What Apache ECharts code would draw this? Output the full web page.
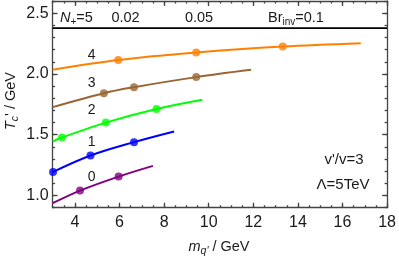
<!DOCTYPE html>
<html><head><meta charset="utf-8">
<script src="https://cdn.jsdelivr.net/npm/echarts@6/dist/echarts.min.js"></script>
<style>html,body{margin:0;padding:0;background:#fff}#c{width:399px;height:261px}</style>
</head><body><div id="c"></div>
<script>
// ---- data ----
const xMin = 3, xMax = 18, yMin = 0.9, yMax = 2.6;
const xMajorTicks = [4, 6, 8, 10, 12, 14, 16, 18];
const yMajorTicks = [1.0, 1.5, 2.0, 2.5];

const n4X = [3, 5.94, 9.44, 13.32, 16.82];
const n4Y = [2.034, 2.114, 2.176, 2.225, 2.253];
const n4MarkX = [5.94, 9.44, 13.32];
const n4MarkY = [2.114, 2.176, 2.225];

const n3X = [3, 5.30, 6.65, 9.44, 11.90];
const n3Y = [1.727, 1.842, 1.891, 1.974, 2.034];
const n3MarkX = [5.30, 6.65, 9.44];
const n3MarkY = [1.842, 1.891, 1.974];

const n2X = [3, 3.42, 5.39, 7.66, 9.71];
const n2Y = [1.444, 1.477, 1.600, 1.711, 1.787];
const n2MarkX = [3.42, 5.39, 7.66];
const n2MarkY = [1.477, 1.600, 1.711];

const n1X = [3, 4.70, 6.65, 8.45];
const n1Y = [1.192, 1.329, 1.439, 1.527];
const n1MarkX = [3.02, 4.70, 6.65];
const n1MarkY = [1.193, 1.329, 1.439];

const n0X = [3, 4.23, 5.96, 7.50];
const n0Y = [0.937, 1.041, 1.156, 1.244];
const n0MarkX = [4.23, 5.96];
const n0MarkY = [1.041, 1.156];

const refLineX = [3, 18];
const refLineY = [2.377, 2.377];

const curveLabels = ['4', '3', '2', '1', '0'];
const colors = ['#FF8000', '#996633', '#00FF00', '#0000FF', '#800080'];

// ---- chart ----
const zip = (a, b) => a.map((v, i) => [v, b[i]]);
const FONT = 'Liberation Sans, Arial, sans-serif';
const axisColor = '#444';
const TXT = '#1a1a1a';
const chart = echarts.init(document.getElementById('c'), null, {renderer: 'canvas'});

const curves = [[n4X, n4Y, n4MarkX, n4MarkY], [n3X, n3Y, n3MarkX, n3MarkY],
  [n2X, n2Y, n2MarkX, n2MarkY], [n1X, n1Y, n1MarkX, n1MarkY], [n0X, n0Y, n0MarkX, n0MarkY]];

const series = [];
curves.forEach((c, i) => {
  series.push({type: 'line', data: zip(c[0], c[1]), smooth: 0.35, showSymbol: false,
    lineStyle: {color: colors[i], width: 2}, xAxisIndex: 0, yAxisIndex: 0, silent: true, z: 3});
  series.push({type: 'scatter', data: zip(c[2], c[3]), symbolSize: 8, clip: false,
    itemStyle: {color: colors[i]}, xAxisIndex: 0, yAxisIndex: 0, z: 4});
});
series.push({type: 'line', data: zip(refLineX, refLineY), showSymbol: false,
  lineStyle: {color: '#000', width: 1.8}, xAxisIndex: 0, yAxisIndex: 0, z: 5});

const minorX = {min: xMin, max: xMax, interval: 0.5};
const minorY = {min: yMin, max: yMax, interval: 0.1};
const lineS = {color: axisColor, width: 1.3};

const option = {
  animation: false,
  grid: {left: 52.6, right: 11, top: 1, bottom: 53.3, containLabel: false},
  xAxis: [
    Object.assign({type: 'value', position: 'bottom', axisLine: {show: true, lineStyle: lineS},
      axisTick: {inside: true, length: 2.5, lineStyle: lineS},
      axisLabel: {fontSize: 16, color: TXT, fontFamily: FONT, margin: 7,
        formatter: v => (Math.abs(v - Math.round(v)) < 1e-6 && Math.round(v) % 2 === 0) ? String(Math.round(v)) : ''},
      splitLine: {show: false}}, minorX),
    {type: 'value', position: 'bottom', min: xMin, max: xMax, axisLine: {show: false},
      axisTick: {inside: true, length: 5, customValues: xMajorTicks, lineStyle: lineS},
      axisLabel: {show: false, customValues: xMajorTicks}, splitLine: {show: false}},
    Object.assign({type: 'value', position: 'top', axisLine: {show: true, lineStyle: lineS},
      axisTick: {inside: true, length: 2.5, lineStyle: lineS}, axisLabel: {show: false},
      splitLine: {show: false}}, minorX),
    {type: 'value', position: 'top', min: xMin, max: xMax, axisLine: {show: false},
      axisTick: {inside: true, length: 5, customValues: xMajorTicks, lineStyle: lineS},
      axisLabel: {show: false, customValues: xMajorTicks}, splitLine: {show: false}}
  ],
  yAxis: [
    Object.assign({type: 'value', position: 'left', axisLine: {show: true, lineStyle: lineS},
      axisTick: {inside: true, length: 2.5, lineStyle: lineS},
      axisLabel: {fontSize: 16, color: TXT, fontFamily: FONT, margin: 4,
        formatter: v => { const r = Math.round(v * 10); return (Math.abs(v * 10 - r) < 1e-6 && r % 5 === 0 && r >= 10) ? (r / 10).toFixed(1) : ''; }},
      splitLine: {show: false}}, minorY),
    {type: 'value', position: 'left', min: yMin, max: yMax, axisLine: {show: false},
      axisTick: {inside: true, length: 5, customValues: yMajorTicks, lineStyle: lineS},
      axisLabel: {show: false, customValues: yMajorTicks}, splitLine: {show: false}},
    Object.assign({type: 'value', position: 'right', axisLine: {show: true, lineStyle: lineS},
      axisTick: {inside: true, length: 2.5, lineStyle: lineS}, axisLabel: {show: false},
      splitLine: {show: false}}, minorY),
    {type: 'value', position: 'right', min: yMin, max: yMax, axisLine: {show: false},
      axisTick: {inside: true, length: 5, customValues: yMajorTicks, lineStyle: lineS},
      axisLabel: {show: false, customValues: yMajorTicks}, splitLine: {show: false}}
  ],
  series: series
};
chart.setOption(option);

// text annotations
const txt = (x, y, rich, text, align) => ({type: 'text', x: x, y: y, z: 10,
  style: {text: text, rich: rich, textAlign: align || 'center', textVerticalAlign: 'middle',
    font: '14px ' + FONT, fill: TXT}});
const mkRich = (fs, ss) => ({
  n: {fontSize: fs, fontFamily: FONT, color: TXT, lineHeight: fs + 4, verticalAlign: 'middle'},
  i: {fontSize: fs, fontFamily: FONT, fontStyle: 'italic', color: TXT, lineHeight: fs + 4, verticalAlign: 'middle'},
  s: {fontSize: ss, fontFamily: FONT, color: TXT, lineHeight: ss, verticalAlign: 'bottom', padding: [6, 0, 0, 0]},
  si: {fontSize: ss, fontFamily: FONT, fontStyle: 'italic', color: TXT, lineHeight: ss, verticalAlign: 'bottom', padding: [6, 0, 0, 0]}
});
const richBase = mkRich(14.5, 10);
const richNum = mkRich(14, 10);
const richTitle = mkRich(14.5, 10.5);
const labelPos = [[91.7, 55], [91.7, 83.3], [91.7, 110], [91.7, 141.7], [91.7, 177.3]];
const graphics = curveLabels.map((t, k) => txt(labelPos[k][0], labelPos[k][1], richNum, '{n|' + t + '}'));
graphics.push(txt(60, 18, richBase, '{i|N}{s|+}{n|=5}', 'left'));
graphics.push(txt(125.5, 18, richBase, '{n|0.02}'));
graphics.push(txt(199, 18, richBase, '{n|0.05}'));
graphics.push(txt(268, 18, richBase, '{n|Br}{s|inv}{n|=0.1}', 'left'));
graphics.push(txt(344, 159.5, mkRich(15, 10), "{n|v'/v=3}"));
graphics.push(txt(343, 185, mkRich(15, 10), '{n|\u039B=5TeV}'));
graphics.push(txt(219, 247, richTitle, "{i|m}{si|q'}{n| / GeV}"));
const yt = txt(11, 101, richTitle, "{i|T}{si|c}{n|' / GeV}");
yt.rotation = Math.PI / 2;
graphics.push(yt);
chart.setOption({graphic: graphics});
</script>
</body></html>
